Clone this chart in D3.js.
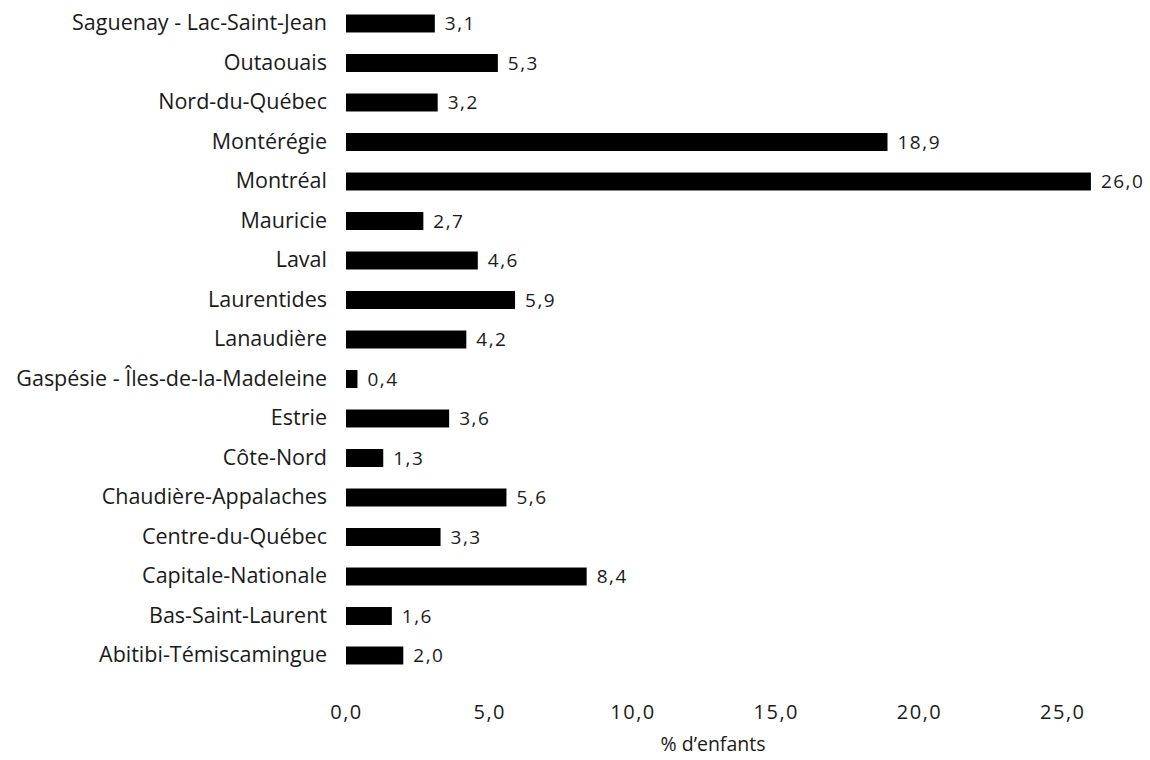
<!DOCTYPE html>
<html lang="fr">
<head>
<meta charset="utf-8">
<script src="https://cdn.jsdelivr.net/npm/d3@7"></script>
<style>
  html, body { margin: 0; padding: 0; background: #fff; }
  svg { display: block; }
  text { font-family: "Open Sans", "Noto Sans", sans-serif; fill: #1a1a1a; }
</style>
</head>
<body>
<svg id="chart" width="1150" height="760"></svg>
<script>
// Régions administratives, de haut en bas
const regions = [
  "Saguenay - Lac-Saint-Jean",
  "Outaouais",
  "Nord-du-Québec",
  "Montérégie",
  "Montréal",
  "Mauricie",
  "Laval",
  "Laurentides",
  "Lanaudière",
  "Gaspésie - Îles-de-la-Madeleine",
  "Estrie",
  "Côte-Nord",
  "Chaudière-Appalaches",
  "Centre-du-Québec",
  "Capitale-Nationale",
  "Bas-Saint-Laurent",
  "Abitibi-Témiscamingue"
];
// Pourcentage d'enfants par région
const pctEnfants = [3.1, 5.3, 3.2, 18.9, 26.0, 2.7, 4.6, 5.9, 4.2, 0.4, 3.6, 1.3, 5.6, 3.3, 8.4, 1.6, 2.0];
const xTicks = [0, 5, 10, 15, 20, 25];
const xTitle = "% d\u2019enfants";

const data = regions.map((r, i) => ({ region: r, value: pctEnfants[i] }));
const fmt = v => v.toFixed(1).replace(".", ",");

const svg = d3.select("#chart");

const x = d3.scaleLinear().domain([0, 27]).range([346, 346 + 28.65 * 27]);
const y = d3.scaleBand()
  .domain(regions)
  .range([3.75, 675.25])
  .paddingInner(0.545)
  .paddingOuter(0.2725);

// Barres
svg.append("g")
  .selectAll("rect")
  .data(data)
  .join("rect")
  .attr("x", x(0))
  .attr("y", d => y(d.region))
  .attr("width", d => x(d.value) - x(0))
  .attr("height", y.bandwidth())
  .attr("fill", "#000");

// Étiquettes de valeur
svg.append("g")
  .selectAll("text")
  .data(data)
  .join("text")
  .attr("x", d => x(d.value) + 10)
  .attr("y", d => y(d.region) + y.bandwidth() / 2)
  .attr("dy", "0.36em")
  .attr("font-size", 19)
  .attr("letter-spacing", 1.5)
  .text(d => fmt(d.value));

// Axe des catégories (sans ligne ni tirets)
const yAxis = svg.append("g")
  .attr("transform", `translate(${x(0) - 19},0)`)
  .call(d3.axisLeft(y).tickSize(0).tickPadding(0));
yAxis.select(".domain").remove();
yAxis.selectAll("text")
  .attr("font-size", 21.5)
  .attr("font-family", "'Open Sans', 'Noto Sans', sans-serif")
  .attr("fill", "#1a1a1a");

// Axe des valeurs (étiquettes seulement)
const xAxis = svg.append("g")
  .attr("transform", "translate(0,705)")
  .call(d3.axisBottom(x).tickValues(xTicks).tickFormat(fmt).tickSize(0).tickPadding(0));
xAxis.select(".domain").remove();
xAxis.selectAll("text")
  .attr("font-size", 20)
  .attr("letter-spacing", 1.5)
  .attr("font-family", "'Open Sans', 'Noto Sans', sans-serif")
  .attr("fill", "#1a1a1a");

// Titre de l'axe
svg.append("text")
  .attr("x", 713)
  .attr("y", 751)
  .attr("text-anchor", "middle")
  .attr("font-size", 19.5)
  .text(xTitle);
</script>
</body>
</html>
